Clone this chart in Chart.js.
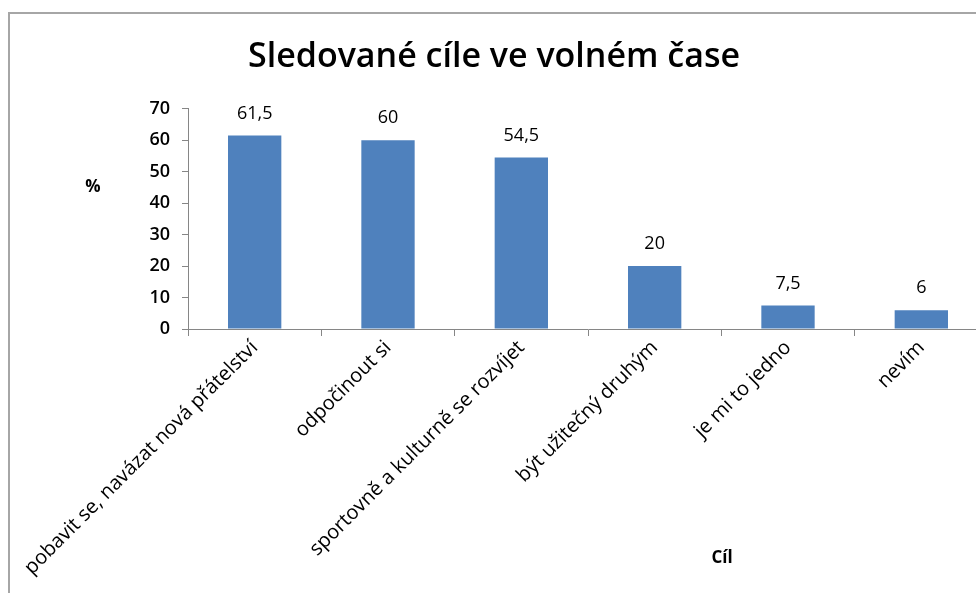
<!DOCTYPE html>
<html>
<head>
<meta charset="utf-8">
<script src="https://cdn.jsdelivr.net/npm/chart.js@4/dist/chart.umd.min.js"></script>
<style>
  html, body { margin: 0; padding: 0; background: #fff; overflow: hidden; }
  #wrap { position: absolute; left: 0; top: 0; width: 992px; height: 593px; }
</style>
</head>
<body>
<div id="wrap"><canvas id="myChart"></canvas></div>
<script>
const categories = [
  "pobavit se, navázat nová přátelství",
  "odpočinout si",
  "sportovně a kulturně se rozvíjet",
  "být užitečný druhým",
  "je mi to jedno",
  "nevím",
];
const values = [61.5, 60, 54.5, 20, 7.5, 6];
const yTicks = [0, 10, 20, 30, 40, 50, 60, 70];

const sansFont = "'Open Sans', 'Noto Sans', sans-serif";

// frame around the chart + the odd-positioned axis titles and value labels
const extras = {
  id: "extras",
  beforeDraw(chart) {
    const ctx = chart.ctx;
    ctx.save();
    ctx.strokeStyle = "#a6a6a6";
    ctx.lineWidth = 2;
    ctx.strokeRect(9, 13, 1200, 1000);
    ctx.restore();
  },
  afterDatasetsDraw(chart) {
    const ctx = chart.ctx;
    const area = chart.chartArea;
    ctx.save();
    ctx.fillStyle = "#000";
    ctx.textAlign = "center";
    ctx.textBaseline = "middle";
    ctx.font = "18px " + sansFont;
    chart.getDatasetMeta(0).data.forEach((bar, i) => {
      ctx.fillText(String(values[i]).replace(".", ","), bar.x, bar.y - 22);
    });
    ctx.font = "bold 17px " + sansFont;
    ctx.fillText("%", area.left - 95, area.top + 78);
    ctx.fillText("Cíl", 722, 558);
    ctx.restore();
  },
};

const ctx = document.getElementById("myChart").getContext("2d");
const myChart = new Chart(ctx, {
  type: "bar",
  data: {
    labels: categories,
    datasets: [
      {
        data: values,
        backgroundColor: "#4F81BD",
        borderWidth: 0,
        barPercentage: 0.4,
        categoryPercentage: 1,
      },
    ],
  },
  options: {
    responsive: true,
    maintainAspectRatio: false,
    animation: false,
    layout: { padding: { left: 0, right: 4, top: 0, bottom: 0 } },
    plugins: {
      legend: { display: false },
      tooltip: { enabled: false },
      title: {
        display: true,
        text: "Sledované cíle ve volném čase",
        color: "#000",
        font: { family: sansFont, size: 34, weight: "600", lineHeight: 1.2 },
        padding: { top: 37, bottom: 31 },
      },
    },
    scales: {
      x: {
        grid: {
          drawOnChartArea: false,
          drawTicks: true,
          tickLength: 7,
          color: "#868686",
        },
        border: { color: "#868686" },
        ticks: {
          color: "#000",
          font: { family: sansFont, size: 20 },
          minRotation: 45,
          maxRotation: 45,
          autoSkip: false,
          padding: 0,
        },
        afterFit(scale) {
          scale.height = 593 - 329;
        },
      },
      y: {
        min: 0,
        max: 70,
        afterBuildTicks(scale) {
          scale.ticks = yTicks.map((v) => ({ value: v }));
        },
        grid: {
          drawOnChartArea: false,
          drawTicks: true,
          tickLength: 6,
          color: "#868686",
        },
        border: { color: "#868686" },
        ticks: {
          color: "#000",
          font: { family: sansFont, size: 18, weight: "600" },
          padding: 12,
        },
        afterFit(scale) {
          scale.width = 188;
        },
      },
    },
  },
  plugins: [extras],
});
</script>
</body>
</html>
